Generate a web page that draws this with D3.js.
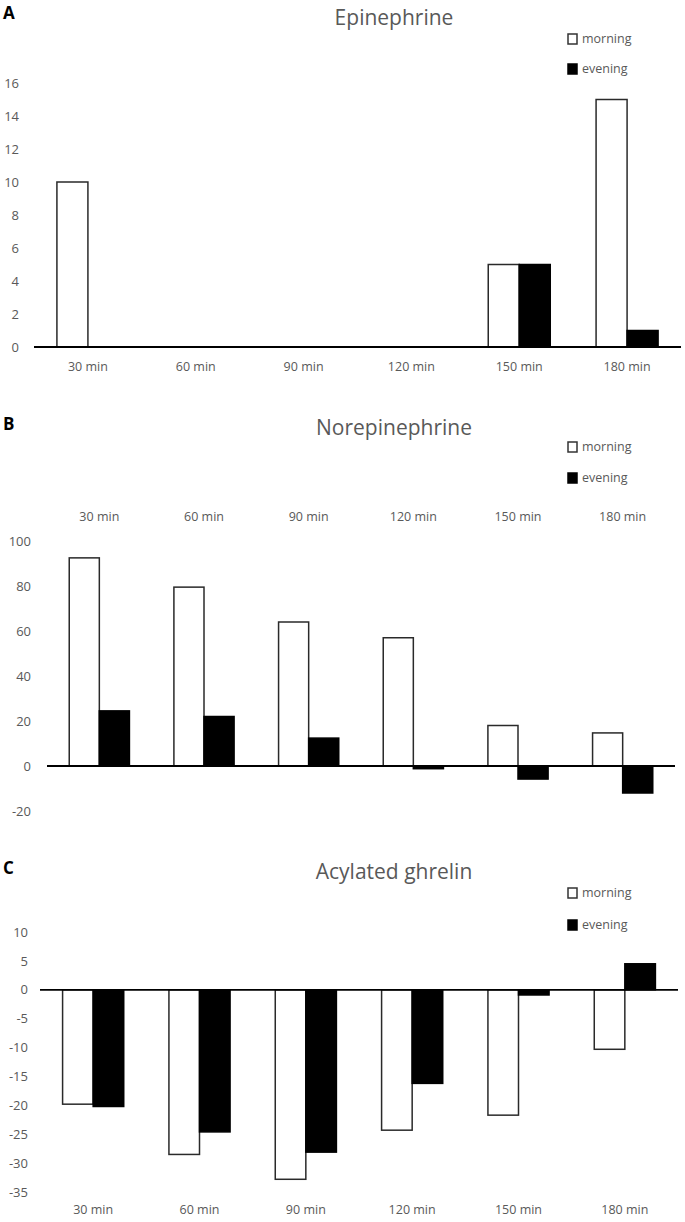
<!DOCTYPE html>
<html>
<head>
<meta charset="utf-8">
<script src="https://cdn.jsdelivr.net/npm/d3@7"></script>
<style>
  html, body { margin: 0; padding: 0; background: #fff; }
  svg { display: block; }
  text { font-family: "Open Sans", "Noto Sans", sans-serif; }
</style>
</head>
<body>
<svg id="chart" width="685" height="1222"></svg>
<script>
// ---- data ----
const categories = ["30 min", "60 min", "90 min", "120 min", "150 min", "180 min"];
const seriesNames = ["morning", "evening"];

const epinephrineMorning = [10, 0, 0, 0, 5, 15];
const epinephrineEvening = [0, 0, 0, 0, 5, 1];
const epinephrineTicks = [0, 2, 4, 6, 8, 10, 12, 14, 16];

const norepinephrineMorning = [92.5, 79.5, 64, 57, 18, 14.7];
const norepinephrineEvening = [24.5, 22, 12.4, -1.2, -5.8, -12];
const norepinephrineTicks = [-20, 0, 20, 40, 60, 80, 100];

const ghrelinMorning = [-19.8, -28.5, -32.8, -24.3, -21.7, -10.3];
const ghrelinEvening = [-20.2, -24.6, -28.1, -16.2, -0.9, 4.5];
const ghrelinTicks = [-35, -30, -25, -20, -15, -10, -5, 0, 5, 10];

// ---- drawing ----
const svg = d3.select("#chart");
const GRAY = "#595959";

function drawPanel(cfg) {
  const g = svg.append("g");
  const x0 = d3.scaleBand().domain(categories).range(cfg.xRange).paddingInner(0).paddingOuter(0);
  const x1 = d3.scaleBand().domain(seriesNames).range([0, x0.bandwidth()]).paddingInner(0).paddingOuter(0.739);
  const y = d3.scaleLinear().domain(cfg.yDomain).range(cfg.yRange);

  // panel letter
  g.append("text").attr("x", 3).attr("y", cfg.letterY)
    .attr("font-size", 17).attr("font-weight", "bold").attr("fill", "#000")
    .text(cfg.letter);

  // title
  g.append("text").attr("x", 394).attr("y", cfg.titleY)
    .attr("text-anchor", "middle").attr("font-size", 21).attr("fill", GRAY)
    .text(cfg.title);

  // legend
  const leg = g.append("g");
  seriesNames.forEach((s, i) => {
    const ly = cfg.legendY[i];
    leg.append("rect").attr("x", 568).attr("y", ly - 5).attr("width", 9).attr("height", 10)
      .attr("fill", s === "morning" ? "#fff" : "#000")
      .attr("stroke", s === "morning" ? "#333" : "#000").attr("stroke-width", 1.5);
    leg.append("text").attr("x", 582).attr("y", ly).attr("dy", "0.35em")
      .attr("font-size", 12.5).attr("fill", GRAY).text(s);
  });

  // y axis labels
  const yAxis = d3.axisLeft(y).tickValues(cfg.ticks).tickSize(0).tickPadding(0)
    .tickFormat(d => String(d));
  const ya = g.append("g").attr("transform", `translate(${cfg.tickRight},0)`).call(yAxis);
  ya.select(".domain").remove();
  ya.selectAll("text").attr("font-size", 13).attr("fill", GRAY)
    .style("font-family", "'Open Sans', sans-serif");

  // bars
  const rows = categories.map((c, i) => ({ c, vals: [cfg.morning[i], cfg.evening[i]] }));
  const grp = g.selectAll(".cat").data(rows).join("g")
    .attr("transform", d => `translate(${x0(d.c)},0)`);
  grp.selectAll("rect").data(d => d.vals.map((v, k) => ({ s: seriesNames[k], v })))
    .join("rect")
    .attr("x", d => x1(d.s))
    .attr("width", x1.bandwidth())
    .attr("y", d => y(Math.max(0, d.v)))
    .attr("height", d => Math.abs(y(d.v) - y(0)))
    .attr("fill", d => d.s === "morning" ? "#fff" : "#000")
    .attr("stroke", d => d.s === "morning" ? "#2a2a2a" : "#000")
    .attr("stroke-width", 1.5);

  // zero line (category axis)
  g.append("line")
    .attr("x1", cfg.xRange[0]).attr("x2", cfg.xRange[1])
    .attr("y1", y(0)).attr("y2", y(0))
    .attr("stroke", "#000").attr("stroke-width", 1.8);

  // category labels
  g.selectAll(".catlab").data(categories).join("text")
    .attr("x", d => x0(d) + x0.bandwidth() / 2)
    .attr("y", cfg.catLabelY).attr("dy", "0.35em")
    .attr("text-anchor", "middle").attr("font-size", 12.5).attr("fill", GRAY)
    .text(d => d);
}

drawPanel({
  letter: "A", letterY: 19, title: "Epinephrine", titleY: 25,
  legendY: [39, 69],
  morning: epinephrineMorning, evening: epinephrineEvening, ticks: epinephrineTicks,
  yDomain: [0, 16], yRange: [347, 83], xRange: [34, 681],
  tickRight: 19, catLabelY: 367
});

drawPanel({
  letter: "B", letterY: 430, title: "Norepinephrine", titleY: 435,
  legendY: [447, 478],
  morning: norepinephrineMorning, evening: norepinephrineEvening, ticks: norepinephrineTicks,
  yDomain: [-20, 100], yRange: [811, 541], xRange: [47, 675],
  tickRight: 31, catLabelY: 517
});

drawPanel({
  letter: "C", letterY: 874, title: "Acylated ghrelin", titleY: 879,
  legendY: [893, 925],
  morning: ghrelinMorning, evening: ghrelinEvening, ticks: ghrelinTicks,
  yDomain: [-35, 10], yRange: [1192, 932], xRange: [40, 678],
  tickRight: 28, catLabelY: 1210
});
</script>
</body>
</html>
